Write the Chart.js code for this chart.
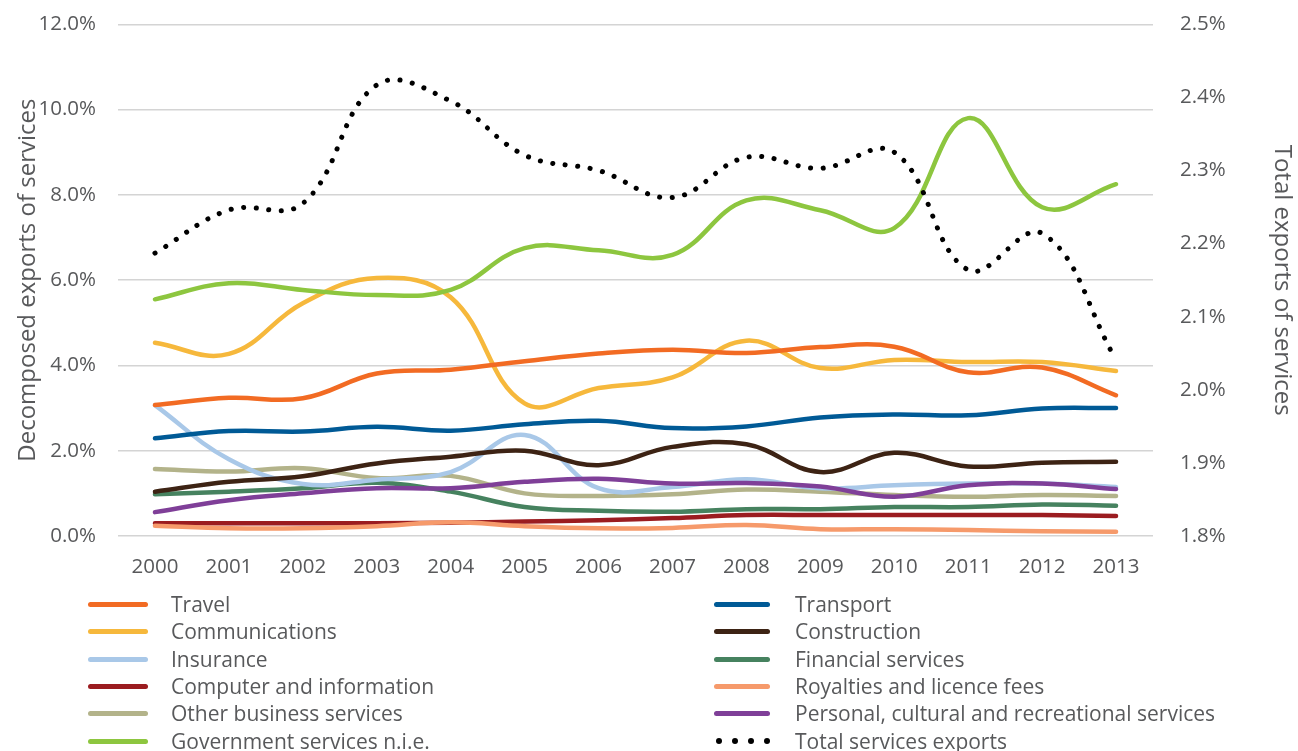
<!DOCTYPE html>
<html>
<head>
<meta charset="utf-8">
<script src="https://cdn.jsdelivr.net/npm/chart.js@4.4.0/dist/chart.umd.min.js"></script>
<style>
body { margin: 0; background: #fff; font-family: "Open Sans", sans-serif; }
#wrap { position: relative; width: 1298px; height: 751px; overflow: hidden; }
#chart { position: absolute; left: 0; top: -15px; }
.item { position: absolute; height: 26px; line-height: 26px; font-size: 21px; color: #58595b; white-space: nowrap; }
.sw { position: absolute; top: 11px; height: 5px; border-radius: 3px; }
.dot { position: absolute; top: 10px; width: 6px; height: 6px; border-radius: 50%; background: #000; }
</style>
</head>
<body>
<div id="wrap">
  <canvas id="chart" width="1298" height="615"></canvas>
  <div id="legend"></div>
</div>
<script>
// Datos (porcentajes)
const years = ['2000','2001','2002','2003','2004','2005','2006','2007','2008','2009','2010','2011','2012','2013'];

const travel         = [3.07, 3.24, 3.23, 3.81, 3.90, 4.10, 4.28, 4.37, 4.29, 4.43, 4.44, 3.84, 3.95, 3.30];
const transport      = [2.29, 2.46, 2.45, 2.56, 2.47, 2.62, 2.70, 2.53, 2.57, 2.78, 2.85, 2.83, 2.99, 3.00];
const communications = [4.53, 4.27, 5.46, 6.05, 5.60, 3.11, 3.47, 3.72, 4.58, 3.94, 4.13, 4.08, 4.08, 3.87];
const construction   = [1.04, 1.27, 1.40, 1.70, 1.86, 2.00, 1.66, 2.09, 2.15, 1.50, 1.95, 1.63, 1.72, 1.74];
const insurance      = [3.07, 1.80, 1.22, 1.32, 1.50, 2.37, 1.12, 1.15, 1.33, 1.12, 1.19, 1.23, 1.23, 1.15];
const financial      = [0.98, 1.04, 1.12, 1.25, 1.04, 0.68, 0.59, 0.57, 0.63, 0.63, 0.68, 0.68, 0.74, 0.71];
const computer       = [0.30, 0.30, 0.30, 0.30, 0.31, 0.34, 0.37, 0.42, 0.49, 0.49, 0.49, 0.49, 0.49, 0.47];
const royalties      = [0.24, 0.18, 0.18, 0.23, 0.32, 0.23, 0.18, 0.19, 0.26, 0.16, 0.16, 0.14, 0.11, 0.10];
const otherBusiness  = [1.57, 1.51, 1.59, 1.36, 1.41, 1.00, 0.94, 0.98, 1.09, 1.04, 0.96, 0.92, 0.96, 0.94];
const personal       = [0.56, 0.84, 1.00, 1.12, 1.12, 1.27, 1.34, 1.23, 1.24, 1.16, 0.92, 1.19, 1.23, 1.10];
const government     = [5.55, 5.93, 5.77, 5.65, 5.77, 6.75, 6.70, 6.59, 7.87, 7.64, 7.22, 9.80, 7.71, 8.25];
const totalServices  = [2.187, 2.246, 2.255, 2.417, 2.395, 2.321, 2.300, 2.263, 2.318, 2.303, 2.325, 2.164, 2.214, 2.041];

const leftTicks  = [0, 2, 4, 6, 8, 10, 12];
const rightTicks = [1.8, 1.9, 2.0, 2.1, 2.2, 2.3, 2.4, 2.5];

// orden de la leyenda: fila por fila, dos columnas
const series = [
    { label: 'Travel', data: travel, color: '#f26b23' },
    { label: 'Transport', data: transport, color: '#005a96' },
    { label: 'Communications', data: communications, color: '#f6b83c' },
    { label: 'Construction', data: construction, color: '#3d2314' },
    { label: 'Insurance', data: insurance, color: '#a9c8e8' },
    { label: 'Financial services', data: financial, color: '#46825f' },
    { label: 'Computer and information', data: computer, color: '#9b1c20' },
    { label: 'Royalties and licence fees', data: royalties, color: '#f69a6b' },
    { label: 'Other business services', data: otherBusiness, color: '#b3b38a' },
    { label: 'Personal, cultural and recreational services', data: personal, color: '#7f3f98' },
    { label: 'Government services n.i.e.', data: government, color: '#8dc63f' },
    { label: 'Total services exports', data: totalServices, color: '#000000', dotted: true }
];

const drawOrder = {
    'Total services exports': 0, 'Government services n.i.e.': 1, 'Travel': 2, 'Communications': 3,
    'Transport': 4, 'Construction': 5, 'Personal, cultural and recreational services': 6,
    'Insurance': 7, 'Other business services': 8, 'Financial services': 9,
    'Royalties and licence fees': 10, 'Computer and information': 11
};

const datasets = series.map(s => ({
    label: s.label,
    data: s.data,
    borderColor: s.color,
    backgroundColor: s.color,
    borderWidth: s.dotted ? 5 : 4.5,
    borderDash: s.dotted ? [0.1, 12.5] : [],
    borderCapStyle: 'round',
    pointRadius: 0,
    tension: 0.4,
    fill: false,
    yAxisID: s.dotted ? 'y2' : 'y',
    order: drawOrder[s.label]
}));

const textColor = '#58595b';
const tickFont = { family: 'Open Sans', size: 20.5 };
const titleFont = { family: 'Open Sans', size: 24 };

const ctx = document.getElementById('chart').getContext('2d');
const chart = new Chart(ctx, {
    type: 'line',
    data: { labels: years, datasets: datasets },
    options: {
        responsive: false,
        animation: false,
        layout: { padding: { top: 1, left: 0, right: 0, bottom: 0 } },
        plugins: {
            legend: { display: false },
            tooltip: { enabled: false }
        },
        scales: {
            x: {
                offset: true,
                grid: { display: false },
                border: { display: false },
                ticks: { color: textColor, font: tickFont, padding: 11, maxRotation: 0 },
                afterFit: s => { s.height = 64; }
            },
            y: {
                position: 'left',
                min: 0,
                max: 12,
                afterBuildTicks: s => { s.ticks = leftTicks.map(v => ({ value: v })); },
                grid: { color: '#d4d4d4', lineWidth: 1.5, drawTicks: false },
                border: { display: false },
                ticks: {
                    color: textColor, font: tickFont, padding: 22,
                    callback: v => v.toFixed(1) + '%'
                },
                title: {
                    display: true, text: 'Decomposed exports of services', color: textColor,
                    font: titleFont, padding: { top: 14 }
                },
                afterFit: s => { s.width = 118; }
            },
            y2: {
                position: 'right',
                min: 1.8,
                max: 2.5,
                afterBuildTicks: s => { s.ticks = rightTicks.map(v => ({ value: v })); },
                grid: { display: false, drawTicks: false },
                border: { display: false },
                ticks: {
                    color: textColor, font: tickFont, padding: 27,
                    callback: v => v.toFixed(1) + '%'
                },
                title: {
                    display: true, text: 'Total exports of services', color: textColor,
                    font: titleFont, padding: { top: 2 }
                },
                afterFit: s => { s.width = 145; }
            }
        }
    }
});

// Leyenda en HTML, dos columnas
const legend = document.getElementById('legend');
series.forEach((s, i) => {
    const col = i % 2;
    const row = Math.floor(i / 2);
    const item = document.createElement('div');
    item.className = 'item';
    item.style.top = (591 + row * 27.3) + 'px';
    item.style.left = (col === 0 ? 88 : 714) + 'px';
    const textLeft = col === 0 ? 83 : 81;
    if (s.dotted) {
        for (let k = 0; k < 4; k++) {
            const d = document.createElement('span');
            d.className = 'dot';
            d.style.left = (2 + k * 16) + 'px';
            item.appendChild(d);
        }
    } else {
        const sw = document.createElement('span');
        sw.className = 'sw';
        sw.style.left = '0px';
        sw.style.width = (col === 0 ? 60 : 56) + 'px';
        sw.style.background = s.color;
        item.appendChild(sw);
    }
    const t = document.createElement('span');
    t.style.position = 'absolute';
    t.style.left = textLeft + 'px';
    t.textContent = s.label;
    item.appendChild(t);
    legend.appendChild(item);
});
</script>
</body>
</html>
